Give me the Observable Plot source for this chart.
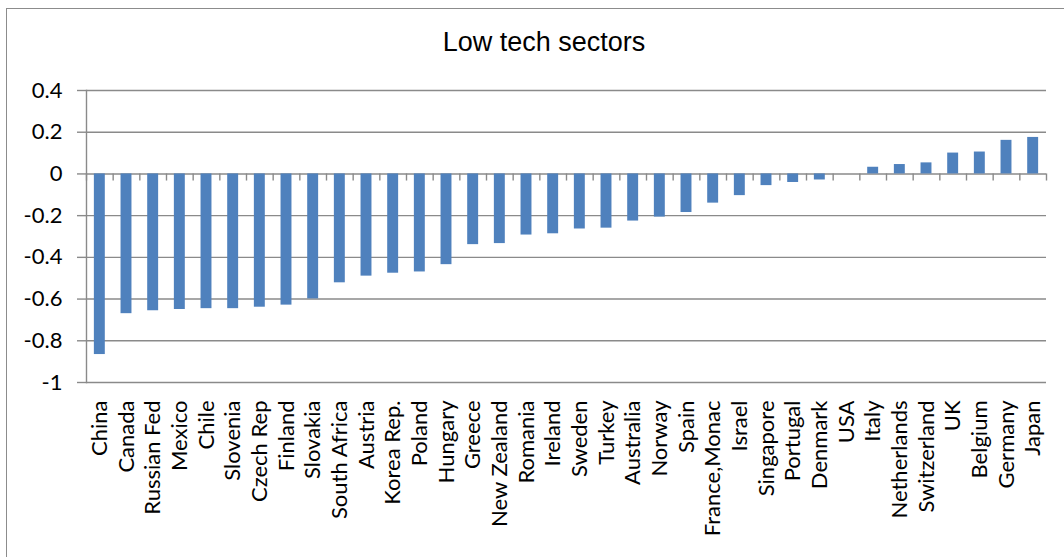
<!DOCTYPE html>
<html>
<head>
<meta charset="utf-8">
<script src="https://cdn.jsdelivr.net/npm/d3@7"></script>
<script src="https://cdn.jsdelivr.net/npm/@observablehq/plot@0.6"></script>
<style>
  html, body { margin: 0; padding: 0; background: #fff; overflow: hidden; }
  #wrap { position: relative; width: 1064px; height: 557px; }
  #border { position: absolute; left: 6px; top: 8px; width: 1100px; height: 600px;
            border-left: 1.3px solid #8c8c8c; border-top: 1.3px solid #8c8c8c; }
  #chart { position: absolute; left: 0; top: 0; }
</style>
</head>
<body>
<div id="wrap"><div id="border"></div><div id="chart"></div></div>
<script>
const title = "Low tech sectors";
const countries = ["China","Canada","Russian Fed","Mexico","Chile","Slovenia","Czech Rep","Finland","Slovakia","South Africa","Austria","Korea Rep.","Poland","Hungary","Greece","New Zealand","Romania","Ireland","Sweden","Turkey","Australia","Norway","Spain","France,Monac","Israel","Singapore","Portugal","Denmark","USA","Italy","Netherlands","Switzerland","UK","Belgium","Germany","Japan"];
const values = [-0.866,-0.670,-0.656,-0.650,-0.646,-0.646,-0.639,-0.629,-0.599,-0.522,-0.490,-0.476,-0.470,-0.435,-0.339,-0.334,-0.293,-0.287,-0.264,-0.260,-0.226,-0.207,-0.185,-0.140,-0.104,-0.056,-0.041,-0.029,0,0.032,0.045,0.053,0.100,0.105,0.161,0.175];
const yTicks = [-1,-0.8,-0.6,-0.4,-0.2,0,0.2,0.4];

const data = countries.map((c, i) => ({country: c, value: values[i]}));
const gray = "#8a8a8a";
const step = (1046 - 86) / countries.length;

const chart = Plot.plot({
  width: 1064,
  height: 557,
  marginLeft: 86,
  marginRight: 18,
  marginTop: 90,
  marginBottom: 175,
  style: {fontFamily: "Lato, 'Open Sans', sans-serif", fontSize: "22px", color: "black", background: "transparent", overflow: "visible"},
  x: {domain: countries, paddingInner: 0.59, paddingOuter: 0.295, round: false, label: null},
  y: {domain: [-1, 0.4], label: null},
  marks: [
    Plot.gridY(yTicks, {stroke: gray, strokeOpacity: 1, strokeWidth: 1.4}),
    Plot.axisY({ticks: yTicks, tickSize: 9, tickPadding: 15, stroke: gray, strokeWidth: 1.4,
      tickFormat: d => String(+d.toFixed(1)), label: null, fontSize: 22}),
    Plot.frame({anchor: "left", stroke: gray, strokeWidth: 1.4}),
    Plot.barY(data, {x: "country", y: "value", fill: "#4f81bd"}),
    Plot.ruleX(countries, {x: d => d, dx: -step / 2, y1: 0, y2: -0.034, stroke: gray, strokeWidth: 1.4}),
    Plot.ruleX([countries[countries.length - 1]], {x: d => d, dx: step / 2, y1: 0, y2: -0.034, stroke: gray, strokeWidth: 1.4}),
    Plot.axisX({tickRotate: -90, tickSize: 0, tickPadding: 18, label: null, fontSize: 22}),
    Plot.text([title], {frameAnchor: "top", dx: -22.5, dy: -40, lineAnchor: "bottom", text: d => d,
      fontFamily: "'Liberation Sans', Arial, sans-serif", fontSize: 27, fill: "black"})
  ]
});
document.getElementById("chart").appendChild(chart);
</script>
</body>
</html>
